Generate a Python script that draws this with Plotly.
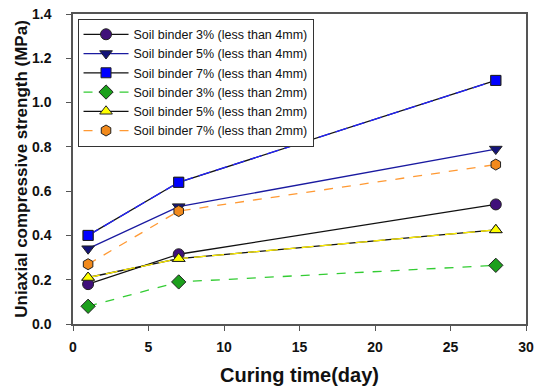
import plotly.graph_objects as go

days = [1, 7, 28]
names = [
    "Soil binder 3% (less than 4mm)",
    "Soil binder 5% (less than 4mm)",
    "Soil binder 7% (less than 4mm)",
    "Soil binder 3% (less than 2mm)",
    "Soil binder 5% (less than 2mm)",
    "Soil binder 7% (less than 2mm)",
]
s3_4 = [0.18, 0.315, 0.54]
s5_4 = [0.34, 0.53, 0.79]
s7_4 = [0.40, 0.64, 1.10]
s3_2 = [0.08, 0.19, 0.265]
s5_2 = [0.21, 0.295, 0.425]
s7_2 = [0.27, 0.51, 0.72]

series = [s3_4, s5_4, s7_4, s3_2, s5_2, s7_2]
line_colors = ["#111111", "#1a1aa0", "#111111", "#33cc33", "#111111", "#ff9933"]
line_dash = ["solid", "solid", "solid", "dash", "solid", "dash"]
overlay = [None, None, "#2222ff", None, "#ffee00", None]
marker_colors = ["#40107a", "#14147a", "#0000ff", "#1ca01c", "#ffff00", "#f28a1c"]
symbols = ["circle", "triangle-down", "square", "diamond", "triangle-up", "hexagon"]
sizes = [11, 11, 10, 11, 11, 11]

fig = go.Figure()
for i, ys in enumerate(series):
    fig.add_trace(go.Scatter(
        x=days, y=ys, name=names[i], mode="lines+markers",
        line=dict(color=line_colors[i], width=1.3, dash=line_dash[i]),
        marker=dict(symbol=symbols[i], size=sizes[i], color=marker_colors[i],
                    line=dict(color="#222222", width=1)),
    ))
    if overlay[i]:
        fig.add_trace(go.Scatter(
            x=days, y=ys, mode="lines", showlegend=False, hoverinfo="skip",
            line=dict(color=overlay[i], width=1.3, dash="12px,6px"),
        ))
        fig.add_trace(go.Scatter(
            x=days, y=ys, mode="markers", showlegend=False, hoverinfo="skip",
            marker=dict(symbol=symbols[i], size=sizes[i], color=marker_colors[i],
                        line=dict(color="#222222", width=1)),
        ))

font_fam = "Arial, Liberation Sans"
axis_common = dict(
    showgrid=False, zeroline=False, showline=True, linecolor="#555555", linewidth=1.5,
    mirror=True, ticks="outside", ticklen=5, tickcolor="#555555", automargin=False,
    tickfont=dict(family=font_fam, size=14, color="#111111", weight="bold"),
)
fig.update_xaxes(range=[0, 30], tickvals=[0, 5, 10, 15, 20, 25, 30], ticklabelstandoff=4,
                 title=dict(text="Curing time(day)", font=dict(family=font_fam, size=20, color="#111111", weight="bold"), standoff=14),
                 **axis_common)
fig.update_yaxes(range=[0, 1.4], tickvals=[0, 0.2, 0.4, 0.6, 0.8, 1.0, 1.2, 1.4], tickformat=".1f",
                 ticklabelstandoff=12,
                 title=dict(text="Uniaxial compressive strength (MPa)", font=dict(family=font_fam, size=17, color="#111111", weight="bold"), standoff=0),
                 **axis_common)

fig.update_layout(
    width=534, height=387, margin=dict(l=73, r=8, t=14, b=63),
    plot_bgcolor="white", paper_bgcolor="white",
    legend=dict(x=0.01, y=0.985, xanchor="left", yanchor="top",
                bordercolor="#333333", borderwidth=1, bgcolor="white",
                font=dict(family=font_fam, size=12.5, color="#111111"),
                tracegroupgap=0, itemwidth=45),
    showlegend=True,
)
fig.write_html("out.html")
